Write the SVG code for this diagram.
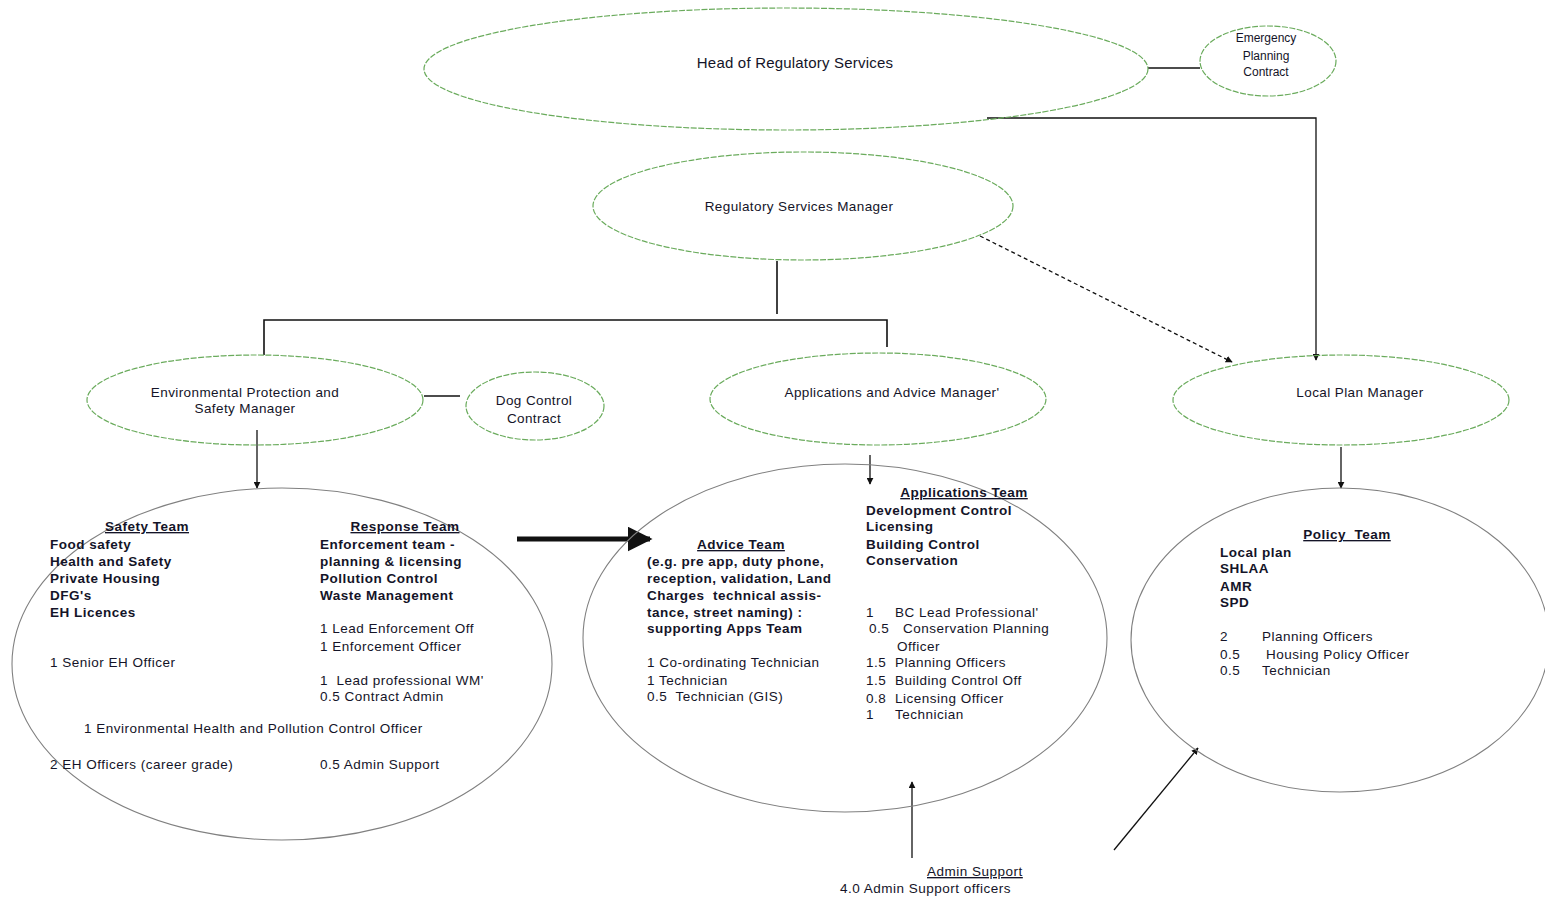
<svg xmlns="http://www.w3.org/2000/svg" width="1545" height="899" viewBox="0 0 1545 899">
<defs>
<style>
.mgr{fill:none;stroke:#6aab5c;stroke-width:1.2;stroke-dasharray:6 1.5}
.team{fill:none;stroke:#808080;stroke-width:1.1}
.ln{fill:none;stroke:#111;stroke-width:1.6}
text{font-family:"Liberation Sans",Arial,sans-serif;fill:#141428}
.t{font-size:13.5px;letter-spacing:0.4px}
.b{font-size:13.5px;font-weight:bold;letter-spacing:0.5px}
.r{font-size:13.5px;letter-spacing:0.5px}
.h{font-size:13.5px;font-weight:bold;text-decoration:underline;letter-spacing:0.5px}
.c{text-anchor:middle}
</style>
<marker id="ah" viewBox="0 0 10 10" refX="9" refY="5" markerWidth="7" markerHeight="7" orient="auto" markerUnits="userSpaceOnUse"><path d="M0,0 L10,5 L0,10 z" fill="#111"/></marker>
<marker id="ahb" viewBox="0 0 10 10" refX="9" refY="5" markerWidth="5" markerHeight="5" orient="auto"><path d="M0,0 L10,5 L0,10 z" fill="#111"/></marker>
</defs>
<rect width="1545" height="899" fill="#fff"/>
<g id="connectors">
<line class="ln" x1="1148" y1="68" x2="1200" y2="68"/>
<polyline class="ln" points="987,118 1316,118 1316,360" marker-end="url(#ah)" style="stroke-width:1.3"/>
<line class="ln" x1="777" y1="261" x2="777" y2="314"/>
<polyline class="ln" points="264,355 264,320 887,320 887,347"/>
<line class="ln" x1="980" y1="236" x2="1232" y2="362" style="stroke-width:1.3;stroke-dasharray:4 3" marker-end="url(#ah)"/>
<line class="ln" x1="424" y1="396" x2="460" y2="396"/>
<line class="ln" x1="257" y1="430" x2="257" y2="488" style="stroke-width:1.3" marker-end="url(#ah)"/>
<line class="ln" x1="870" y1="455" x2="870" y2="484" style="stroke-width:1.3" marker-end="url(#ah)"/>
<line class="ln" x1="1341" y1="447" x2="1341" y2="488" style="stroke-width:1.3" marker-end="url(#ah)"/>
<line class="ln" x1="517" y1="539" x2="650" y2="539" style="stroke-width:5" marker-end="url(#ahb)"/>
<line class="ln" x1="912" y1="858" x2="912" y2="782" style="stroke-width:1.3" marker-end="url(#ah)"/>
<line class="ln" x1="1114" y1="850" x2="1198" y2="748" style="stroke-width:1.3" marker-end="url(#ah)"/>
</g>
<g id="head">
<ellipse class="mgr" cx="786" cy="69" rx="362" ry="61"/>
<text class="c" x="795" y="68" style="font-size:15px;letter-spacing:0.2px">Head of Regulatory Services</text>
</g>
<g id="emergency">
<ellipse class="mgr" cx="1268" cy="61" rx="68" ry="35"/>
<text class="c" x="1266" y="42" style="font-size:12px">Emergency</text>
<text class="c" x="1266" y="60" style="font-size:12px">Planning</text>
<text class="c" x="1266" y="76" style="font-size:12px">Contract</text>
</g>
<g id="regmgr">
<ellipse class="mgr" cx="803" cy="206" rx="210" ry="54"/>
<text class="t c" x="799" y="211">Regulatory Services Manager</text>
</g>
<g id="envmgr">
<ellipse class="mgr" cx="255" cy="400" rx="168" ry="45"/>
<text class="t c" x="245" y="397">Environmental Protection and</text>
<text class="t c" x="245" y="413">Safety Manager</text>
</g>
<g id="dog">
<ellipse class="mgr" cx="535" cy="406" rx="69" ry="34"/>
<text class="t c" x="534" y="405">Dog Control</text>
<text class="t c" x="534" y="423">Contract</text>
</g>
<g id="appsmgr">
<ellipse class="mgr" cx="878" cy="399" rx="168" ry="46"/>
<text class="t c" x="892" y="397">Applications and Advice Manager'</text>
</g>
<g id="localmgr">
<ellipse class="mgr" cx="1341" cy="400" rx="168" ry="45"/>
<text class="t c" x="1360" y="397">Local Plan Manager</text>
</g>
<g id="safety">
<ellipse class="team" cx="282" cy="664" rx="270" ry="176"/>
<text class="h c" x="147" y="531">Safety Team</text>
<text class="b" x="50" y="549">Food safety</text>
<text class="b" x="50" y="566">Health and Safety</text>
<text class="b" x="50" y="583">Private Housing</text>
<text class="b" x="50" y="600">DFG's</text>
<text class="b" x="50" y="617">EH Licences</text>
<text class="r" x="50" y="667">1 Senior EH Officer</text>
<text class="r" x="84" y="733">1 Environmental Health and Pollution Control Officer</text>
<text class="r" x="50" y="769">2 EH Officers (career grade)</text>
<text class="h c" x="405" y="531">Response Team</text>
<text class="b" x="320" y="549">Enforcement team -</text>
<text class="b" x="320" y="566">planning &amp; licensing</text>
<text class="b" x="320" y="583">Pollution Control</text>
<text class="b" x="320" y="600">Waste Management</text>
<text class="r" x="320" y="633">1 Lead Enforcement Off</text>
<text class="r" x="320" y="651">1 Enforcement Officer</text>
<text class="r" x="320" y="685" xml:space="preserve">1  Lead professional WM'</text>
<text class="r" x="320" y="701">0.5 Contract Admin</text>
<text class="r" x="320" y="769">0.5 Admin Support</text>
</g>
<g id="advice">
<ellipse class="team" cx="845" cy="638" rx="262" ry="174"/>
<text class="h c" x="741" y="549">Advice Team</text>
<text class="b" x="647" y="566">(e.g. pre app, duty phone,</text>
<text class="b" x="647" y="583">reception, validation, Land</text>
<text class="b" x="647" y="600" xml:space="preserve">Charges  technical assis-</text>
<text class="b" x="647" y="617">tance, street naming) :</text>
<text class="b" x="647" y="633">supporting Apps Team</text>
<text class="r" x="647" y="667">1 Co-ordinating Technician</text>
<text class="r" x="647" y="685">1 Technician</text>
<text class="r" x="647" y="701" xml:space="preserve">0.5  Technician (GIS)</text>
<text class="h c" x="964" y="497">Applications Team</text>
<text class="b" x="866" y="515">Development Control</text>
<text class="b" x="866" y="531">Licensing</text>
<text class="b" x="866" y="549">Building Control</text>
<text class="b" x="866" y="565">Conservation</text>
<text class="r" x="866" y="617">1</text><text class="r" x="895" y="617">BC Lead Professional'</text>
<text class="r" x="869" y="633">0.5</text><text class="r" x="903" y="633">Conservation Planning</text>
<text class="r" x="897" y="651">Officer</text>
<text class="r" x="866" y="667">1.5</text><text class="r" x="895" y="667">Planning Officers</text>
<text class="r" x="866" y="685">1.5</text><text class="r" x="895" y="685">Building Control Off</text>
<text class="r" x="866" y="703">0.8</text><text class="r" x="895" y="703">Licensing Officer</text>
<text class="r" x="866" y="719">1</text><text class="r" x="895" y="719">Technician</text>
</g>
<g id="policy">
<ellipse class="team" cx="1340" cy="640" rx="209" ry="152"/>
<text class="h c" x="1347" y="539" xml:space="preserve">Policy  Team</text>
<text class="b" x="1220" y="557">Local plan</text>
<text class="b" x="1220" y="573">SHLAA</text>
<text class="b" x="1220" y="591">AMR</text>
<text class="b" x="1220" y="607">SPD</text>
<text class="r" x="1220" y="641">2</text><text class="r" x="1262" y="641">Planning Officers</text>
<text class="r" x="1220" y="659">0.5</text><text class="r" x="1266" y="659">Housing Policy Officer</text>
<text class="r" x="1220" y="675">0.5</text><text class="r" x="1262" y="675">Technician</text>
</g>
<g id="admin">
<text class="h" x="927" y="876" style="font-weight:normal">Admin Support</text>
<text class="r" x="840" y="893">4.0 Admin Support officers</text>
</g>
</svg>
